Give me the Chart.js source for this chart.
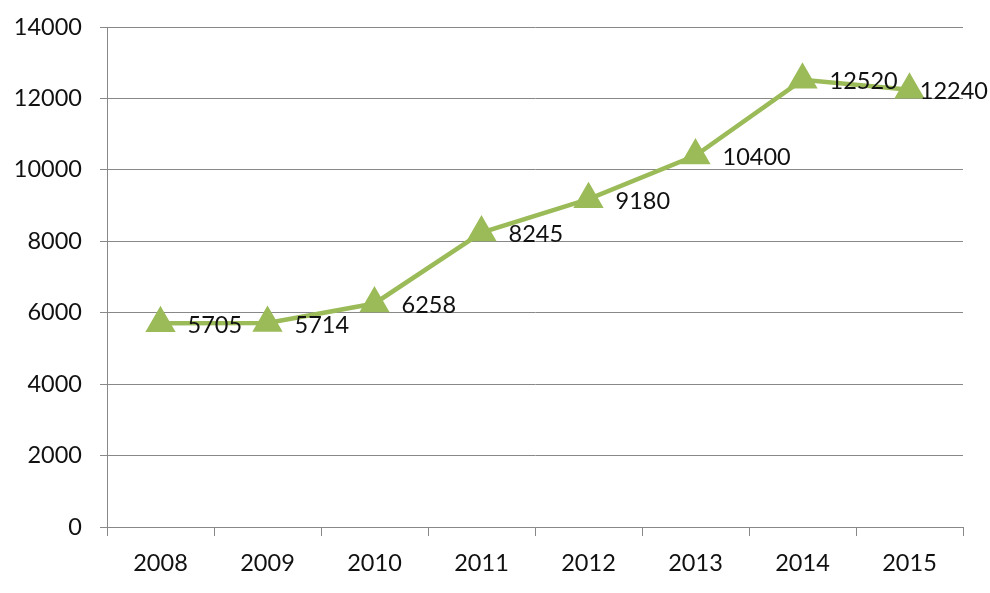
<!DOCTYPE html>
<html><head><meta charset="utf-8">
<script src="https://cdn.jsdelivr.net/npm/chart.js@4/dist/chart.umd.min.js"></script>
<style>html,body{margin:0;padding:0;background:#fff}#wrap{width:990px;height:593px}</style>
</head><body><div id="wrap"><canvas id="c"></canvas></div>
<script>
const years = ['2008','2009','2010','2011','2012','2013','2014','2015'];
const values = [5705, 5714, 6258, 8245, 9180, 10400, 12520, 12240];
const yTicks = [0, 2000, 4000, 6000, 8000, 10000, 12000, 14000];

const FONT = 'Lato, "Open Sans", sans-serif';
const FSIZE = 23.5;
const labelPlugin = {
  id: 'labels',
  afterDatasetsDraw(chart) {
    const ctx = chart.ctx;
    const meta = chart.getDatasetMeta(0);
    ctx.save();
    ctx.font = FSIZE + 'px ' + FONT;
    ctx.fillStyle = '#111111';
    ctx.textAlign = 'left';
    ctx.textBaseline = 'middle';
    meta.data.forEach((pt, i) => {
      const txt = String(values[i]);
      const w = ctx.measureText(txt).width;
      let x = pt.x + 27;
      if (x + w > chart.width - 2) x = chart.width - 2 - w;
      ctx.fillText(txt, x, pt.y + 2);
    });
    ctx.restore();
  }
};

new Chart(document.getElementById('c'), {
  type: 'line',
  data: {
    labels: years,
    datasets: [{
      data: values,
      borderColor: '#9bbb59',
      backgroundColor: '#9bbb59',
      borderWidth: 4.5,
      pointStyle: 'triangle',
      pointRadius: 13,
      pointHoverRadius: 13,
      tension: 0
    }]
  },
  plugins: [labelPlugin],
  options: {
    responsive: true,
    maintainAspectRatio: false,
    animation: false,
    devicePixelRatio: 1,
    layout: { padding: { top: 27, right: 27, left: 0, bottom: 0 } },
    plugins: { legend: { display: false }, tooltip: { enabled: false } },
    scales: {
      x: {
        offset: true,
        grid: { offset: true, drawOnChartArea: false, drawTicks: true, tickLength: 9, color: '#888888', lineWidth: 1 },
        border: { color: '#888888', width: 1 },
        ticks: { font: { family: FONT, size: FSIZE }, color: '#111111', padding: 13 },
        afterFit(s) { s.height = 66; s.paddingLeft = 0; s.paddingRight = 0; }
      },
      y: {
        min: 0, max: 14000,
        afterBuildTicks(s) { s.ticks = yTicks.map(v => ({ value: v })); },
        grid: { color: '#888888', lineWidth: 1, tickLength: 7 },
        border: { color: '#888888', width: 1 },
        ticks: { font: { family: FONT, size: FSIZE }, color: '#111111', padding: 18, callback: v => String(v) },
        afterFit(s) { s.width = 107; s.paddingTop = 0; s.paddingBottom = 0; }
      }
    }
  }
});
</script>
</body></html>
